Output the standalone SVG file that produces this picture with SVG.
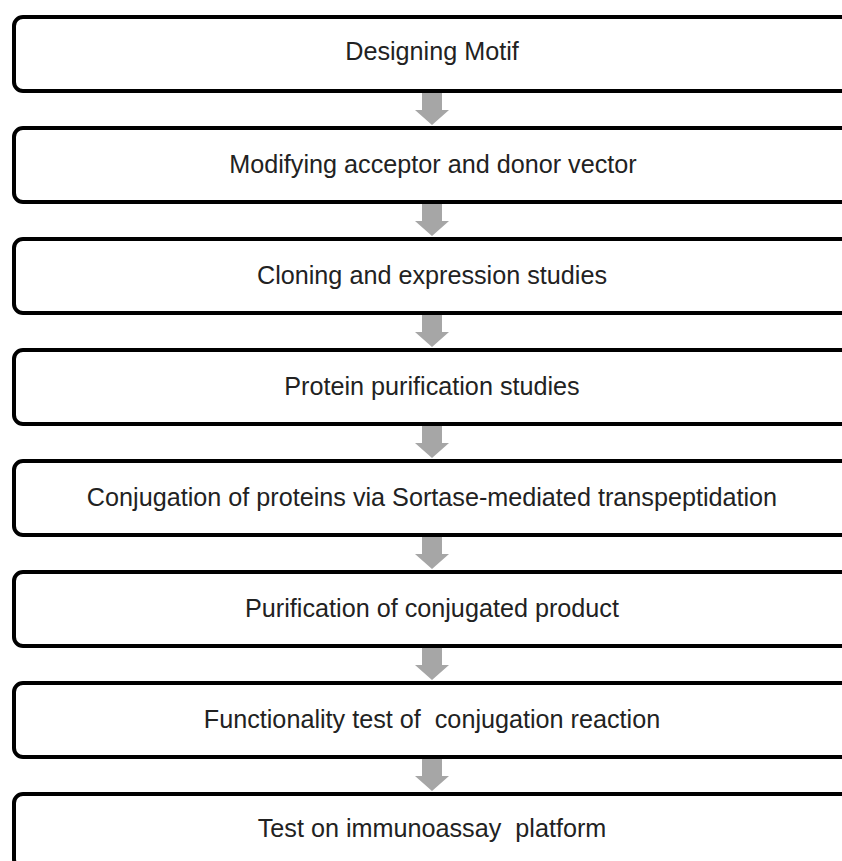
<svg xmlns="http://www.w3.org/2000/svg" width="842" height="861" viewBox="0 0 842 861">
<defs>
<style>
.box{fill:#fff;stroke:#000;stroke-width:4}
.lbl{font-family:"Liberation Sans",Arial,sans-serif;font-size:25.2px;fill:#222;text-anchor:middle;white-space:pre}
.arr{fill:#a6a6a6}
</style>
<path id="arrow" class="arr" d="M-10,0 H10 V17 H17 L0,32 L-17,17 H-10 Z"/>
</defs>
<rect width="842" height="861" fill="#fff"/>
<g id="connectors">
<use href="#arrow" x="432" y="93"/>
<use href="#arrow" x="432" y="204"/>
<use href="#arrow" x="432" y="315"/>
<use href="#arrow" x="432" y="426"/>
<use href="#arrow" x="432" y="537"/>
<use href="#arrow" x="432" y="648"/>
<use href="#arrow" x="432" y="759"/>
</g>
<g id="n1"><rect class="box" x="14" y="17" width="860" height="74" rx="9"/><text class="lbl" x="432" y="60">Designing Motif</text></g>
<g id="n2"><rect class="box" x="14" y="128" width="860" height="74" rx="9"/><text class="lbl" x="433" y="173">Modifying acceptor and donor vector</text></g>
<g id="n3"><rect class="box" x="14" y="239" width="860" height="74" rx="9"/><text class="lbl" x="432" y="284">Cloning and expression studies</text></g>
<g id="n4"><rect class="box" x="14" y="350" width="860" height="74" rx="9"/><text class="lbl" x="432" y="395">Protein purification studies</text></g>
<g id="n5"><rect class="box" x="14" y="461" width="860" height="74" rx="9"/><text class="lbl" x="432" y="506">Conjugation of proteins via Sortase-mediated transpeptidation</text></g>
<g id="n6"><rect class="box" x="14" y="572" width="860" height="74" rx="9"/><text class="lbl" x="432" y="617">Purification of conjugated product</text></g>
<g id="n7"><rect class="box" x="14" y="683" width="860" height="74" rx="9"/><text class="lbl" x="432" y="728" xml:space="preserve">Functionality test of  conjugation reaction</text></g>
<g id="n8"><rect class="box" x="14" y="794" width="860" height="74" rx="9"/><text class="lbl" x="432" y="837" xml:space="preserve">Test on immunoassay  platform</text></g>
</svg>
